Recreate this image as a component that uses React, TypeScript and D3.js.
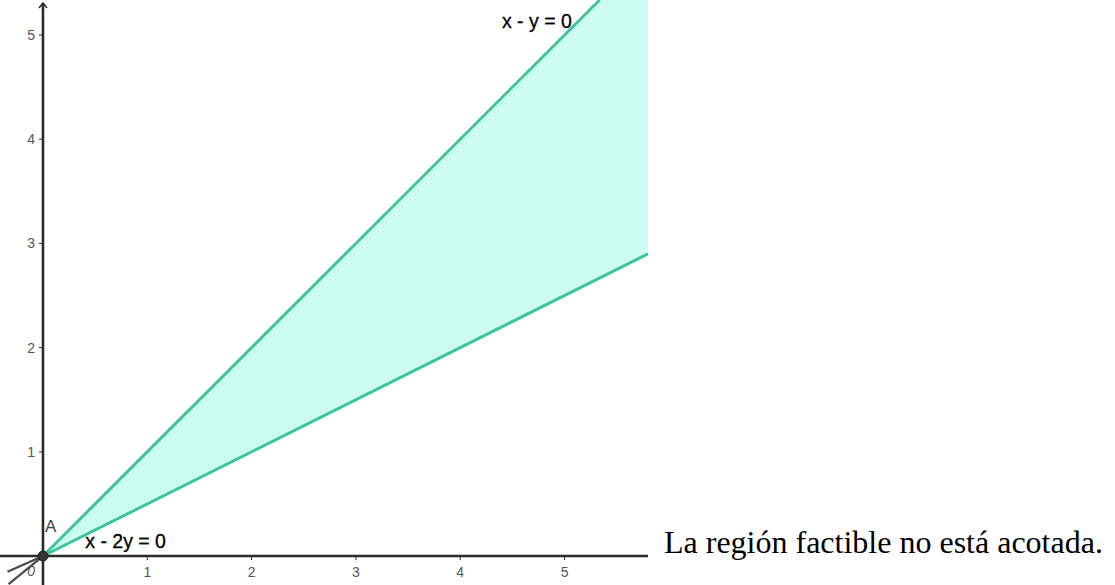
import React from "react";
import * as d3 from "d3";

// ---- data ----
const xTicks = [1, 2, 3, 4, 5];
const yTicks = [1, 2, 3, 4, 5];
const xDomain = [-0.412, 5.8];
const yDomain = [-0.278, 5.336];
// constraint lines: a*x + b*y = 0
const lineNames = ["x - y = 0", "x - 2y = 0"];
const lineA = [1, 1];
const lineB = [-1, -2];
// auxiliary grey rays drawn through the origin into the third quadrant (end points)
const rayEndX = [-0.34, -0.33];
const rayEndY = [-0.15, -0.27];
const pointName = "A";
const originLabel = "0";
const caption = "La región factible no está acotada.";

const W = 648;
const H = 585;

export default function App() {
  const x = d3.scaleLinear().domain(xDomain).range([0, W]);
  const y = d3.scaleLinear().domain(yDomain).range([H, 0]);
  const x0 = x(0);
  const y0 = y(0);
  const xMax = xDomain[1];
  const yMax = yDomain[1];

  const slope = (i: number) => -lineA[i] / lineB[i];
  const s1 = slope(0);
  const s2 = slope(1);
  const regionPts: [number, number][] = [
    [0, 0],
    [Math.min(xMax, yMax / s1), Math.min(yMax, xMax * s1)],
    [xMax, yMax],
    [xMax, xMax * s2],
  ];
  const poly = d3.line<[number, number]>().x((d) => x(d[0])).y((d) => y(d[1]))(regionPts) + "Z";

  const lineSeg = (i: number) => {
    const s = slope(i);
    const xe = Math.min(xMax, yMax / s);
    return { x1: x(0), y1: y(0), x2: x(xe), y2: y(xe * s) };
  };

  const lineColor = "#3ec49b";
  const axisColor = "#2b2b2b";
  const tickColor = "#555";
  const sans = "Liberation Sans, Arial, sans-serif";

  return (
    <div style={{ position: "fixed", left: 0, top: 0, width: 1115, height: 585, background: "#fff" }}>
      <svg width={1115} height={585} style={{ display: "block" }}>
        <defs>
          <clipPath id="plot">
            <rect x={0} y={0} width={W} height={H} />
          </clipPath>
        </defs>
        <g clipPath="url(#plot)">
          <path d={poly} fill="#ccfcef" stroke="none" />
          {rayEndX.map((rx, i) => (
            <line key={i} x1={x0} y1={y0} x2={x(rx)} y2={y(rayEndY[i])} stroke="#4a4a4a" strokeWidth={2.2} />
          ))}
          <line x1={0} y1={y0} x2={W} y2={y0} stroke={axisColor} strokeWidth={2.6} />
          <line x1={x0} y1={H} x2={x0} y2={3} stroke={axisColor} strokeWidth={2.6} />
          <path d={`M${x0 - 4},${8} L${x0},${3} L${x0 + 4},${8}`} fill="none" stroke={axisColor} strokeWidth={1.5} />
          {xTicks.map((t) => (
            <g key={"x" + t}>
              <line x1={x(t)} x2={x(t)} y1={y0} y2={y0 + 4} stroke={axisColor} strokeWidth={1} />
              <text x={x(t)} y={y0 + 21} textAnchor="middle" fontFamily={sans} fontSize={14} fill={tickColor}>
                {t}
              </text>
            </g>
          ))}
          {yTicks.map((t) => (
            <g key={"y" + t}>
              <line x1={x0 - 4} x2={x0} y1={y(t)} y2={y(t)} stroke={axisColor} strokeWidth={1} />
              <text x={x0 - 8} y={y(t) + 5} textAnchor="end" fontFamily={sans} fontSize={14} fill={tickColor}>
                {t}
              </text>
            </g>
          ))}
          <text x={x0 - 8} y={y0 + 20} textAnchor="end" fontFamily={sans} fontSize={14} fill={tickColor} fontStyle="italic">
            {originLabel}
          </text>
          {lineNames.map((n, i) => {
            const s = lineSeg(i);
            return <line key={n} {...s} stroke={lineColor} strokeWidth={3} />;
          })}
          <text x={x(5.07)} y={y(5.07)} textAnchor="end" fontFamily={sans} fontSize={19.5} fill="#000" stroke="#000" strokeWidth={0.3}>
            {lineNames[0]}
          </text>
          <text x={x(0.405)} y={y(0.08)} textAnchor="start" fontFamily={sans} fontSize={19.5} fill="#000" stroke="#000" strokeWidth={0.3}>
            {lineNames[1]}
          </text>
          <circle cx={x0} cy={y0} r={5} fill="#333" stroke="#222" strokeWidth={1} />
          <text x={x0 + 2} y={y0 - 24} fontFamily={sans} fontSize={17} fill="#444">
            {pointName}
          </text>
        </g>
        <text x={664} y={553} fontFamily="Liberation Serif, 'Times New Roman', serif" fontSize={32} fill="#000">
          {caption}
        </text>
      </svg>
    </div>
  );
}
